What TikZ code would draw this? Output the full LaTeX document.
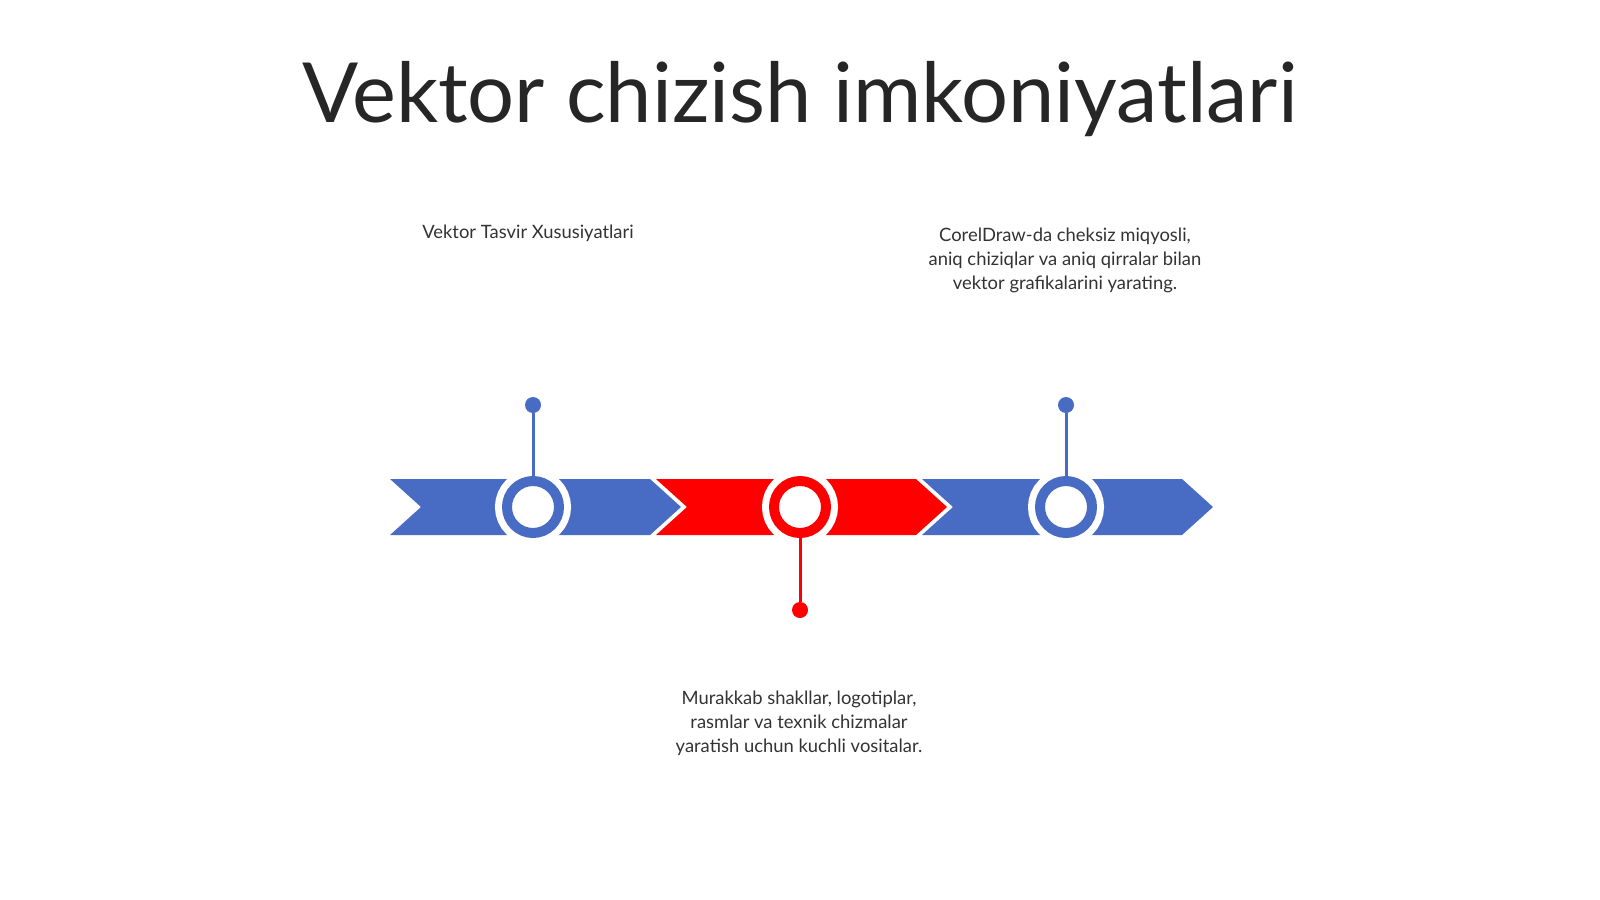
\documentclass[tikz,border=0pt]{standalone}
\usepackage{fontspec}
\setmainfont{Lato}
\definecolor{segblue}{RGB}{72,108,196}
\definecolor{segred}{RGB}{255,0,0}
\definecolor{txtgray}{RGB}{51,51,51}

\begin{document}
\begin{tikzpicture}[x=1pt,y=-1pt,
    ring/.style={circle, inner sep=0pt, minimum size=52pt, line width=10pt, fill=white,
                 preaction={draw=white, line width=24pt}},
    pindot/.style={circle, inner sep=0pt, minimum size=16pt},
    pin/.style={line width=3pt},
    note/.style={align=center, text=txtgray, font=\fontsize{18.4}{24}\selectfont}]
\useasboundingbox[fill=white] (0,0) rectangle (1600,899);
%----title-------------------------------------
\node[anchor=base, text=black!85, font=\fontsize{83}{96}\selectfont] (title) at (800,122) {Vektor chizish imkoniyatlari};
%----chevron band------------------------------
\fill[segblue] (390,479) -- (650,479) -- (681,507) -- (650,535) -- (390,535) -- (421,507) -- cycle;
\fill[segred] (656,479) -- (916,479) -- (947,507) -- (916,535) -- (656,535) -- (687,507) -- cycle;
\fill[segblue] (922,479) -- (1182,479) -- (1213,507) -- (1182,535) -- (922,535) -- (953,507) -- cycle;
%----rings-------------------------------------
\node[ring, draw=segblue] (c1) at (533,507) {};
\node[ring, draw=segred] (c2) at (800,507) {};
\node[ring, draw=segblue] (c3) at (1066,507) {};
%----pins--------------------------------------
\node[pindot, fill=segblue] (d1) at (533,405) {};
\node[pindot, fill=segred] (d2) at (800,610) {};
\node[pindot, fill=segblue] (d3) at (1066,405) {};
\draw[pin, segblue] (c1) -- (d1);
\draw[pin, segred] (c2) -- (d2);
\draw[pin, segblue] (c3) -- (d3);
%----text--------------------------------------
\node[note] (t1) at (528,233) {Vektor Tasvir Xususiyatlari};
\node[note] (t3) at (1065,260) {CorelDraw-da cheksiz miqyosli,\\aniq chiziqlar va aniq qirralar bilan\\vektor grafikalarini yarating.};
\node[note] (t2) at (799,723) {Murakkab shakllar, logotiplar,\\rasmlar va texnik chizmalar\\yaratish uchun kuchli vositalar.};
\end{tikzpicture}
\end{document}
